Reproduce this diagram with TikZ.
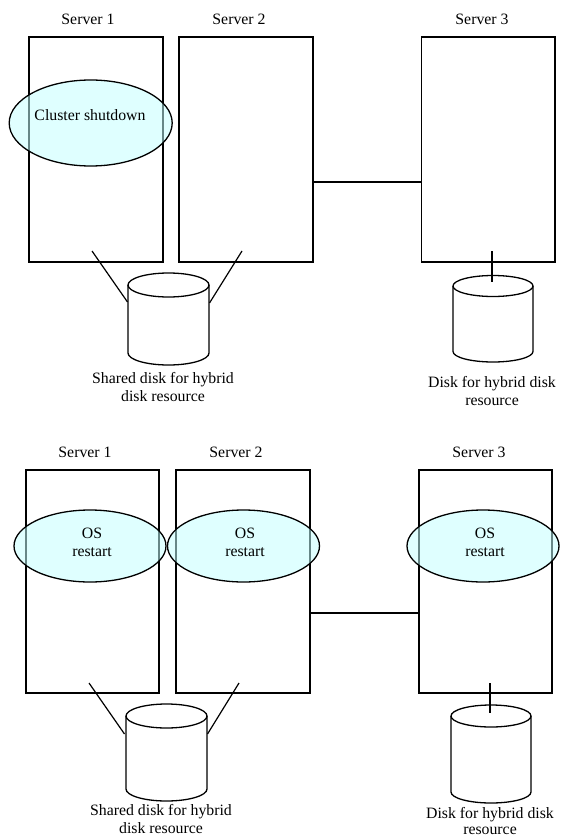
\documentclass[tikz,border=0pt]{standalone}
\usepackage{fontspec}
\setmainfont{Liberation Serif}
\usetikzlibrary{shapes.geometric}
\begin{document}
\begin{tikzpicture}[x=1pt,y=-1pt,
  every node/.style={font=\fontsize{15.8}{18}\selectfont, inner sep=0pt},
  server/.style={draw, line width=1.3pt, fill=white, rectangle},
  proc/.style={draw, ellipse, line width=1.3pt, fill={rgb,1:red,0.77;green,1;blue,1}, fill opacity=0.53, draw opacity=1, text opacity=1},
  txt/.style={anchor=base},
  link/.style={line width=1.2pt},
  disk/.style={line width=1.3pt}]
\useasboundingbox (0,0) rectangle (560,837);

% ---------- top diagram ----------
\node[server, minimum width=134pt, minimum height=225pt] (s1t) at (96,149.5) {};
\node[server, minimum width=134pt, minimum height=225pt] (s2t) at (246,149.5) {};
\node[server, minimum width=133.3pt, minimum height=225pt] (s3t) at (488.3,149.5) {};
\node[txt] (l1t) at (88,25) {Server 1};
\node[txt] (l2t) at (239,25) {Server 2};
\node[txt] (l3t) at (482,25) {Server 3};

\node[proc, minimum width=163pt, minimum height=86pt] (et) at (90.7,123) {};
\node[txt] (ett) at (90,121) {Cluster shutdown};

\coordinate (lkt) at (0,182);
\draw[link] (s2t.east |- lkt) -- (s3t.west |- lkt);

% shared disk (top)
\draw[disk, fill=white] (128,285) -- (128,353) arc (180:0:40.5 and 12) -- (209,285);
\draw[disk] (168.5,285) ellipse (40.5 and 12);
% S3 disk (top)
\draw[disk, fill=white] (453,286) -- (453,351.5) arc (180:0:40 and 10.5) -- (533,286);
\draw[disk] (493,286) ellipse (40 and 10.5);

\coordinate (a1t) at (92,251);  \coordinate (d1t) at (127.5,302);
\coordinate (a2t) at (242,251); \coordinate (d2t) at (209.5,303);
\coordinate (a3t) at (492,251); \coordinate (d3t) at (492,282);
\draw[link] (a1t) -- (d1t);
\draw[link] (a2t) -- (d2t);
\draw[link] (a3t) -- (d3t);

\node[txt] (sd1t) at (163,383) {Shared disk for hybrid};
\node[txt] (sd2t) at (163,401) {disk resource};
\node[txt] (dd1t) at (492,387) {Disk for hybrid disk};
\node[txt] (dd2t) at (492,405) {resource};

% ---------- bottom diagram ----------
\node[server, minimum width=133pt, minimum height=223pt] (s1b) at (92.5,581.5) {};
\node[server, minimum width=134pt, minimum height=223pt] (s2b) at (243,581.5) {};
\node[server, minimum width=133pt, minimum height=223pt] (s3b) at (485.5,581.5) {};
\node[txt] (l1b) at (85,457) {Server 1};
\node[txt] (l2b) at (236,457) {Server 2};
\node[txt] (l3b) at (479,457) {Server 3};

\node[proc, minimum width=152pt, minimum height=72pt] (e1b) at (90,546) {};
\node[proc, minimum width=152pt, minimum height=72pt] (e2b) at (243.5,546) {};
\node[proc, minimum width=152pt, minimum height=72pt] (e3b) at (483,546) {};
\node[txt] (o1a) at (92,538) {OS};
\node[txt] (o1b) at (92,556) {restart};
\node[txt] (o2a) at (245,538) {OS};
\node[txt] (o2b) at (245,556) {restart};
\node[txt] (o3a) at (485,538) {OS};
\node[txt] (o3b) at (485,556) {restart};

\coordinate (lkb) at (0,613);
\draw[link] (s2b.east |- lkb) -- (s3b.west |- lkb);

% shared disk (bottom)
\draw[disk, fill=white] (126,716) -- (126,789) arc (180:0:40.5 and 12) -- (207,716);
\draw[disk] (166.5,716) ellipse (40.5 and 12);
% S3 disk (bottom)
\draw[disk, fill=white] (451,716) -- (451,792) arc (180:0:40 and 11) -- (531,716);
\draw[disk] (491,716) ellipse (40 and 11);

\coordinate (a1b) at (89,683);  \coordinate (d1b) at (124.5,734);
\coordinate (a2b) at (239,683); \coordinate (d2b) at (207.5,734);
\coordinate (a3b) at (490,683); \coordinate (d3b) at (490,713);
\draw[link] (a1b) -- (d1b);
\draw[link] (a2b) -- (d2b);
\draw[link] (a3b) -- (d3b);

\node[txt] (sd1b) at (161,815) {Shared disk for hybrid};
\node[txt] (sd2b) at (161,833) {disk resource};
\node[txt] (dd1b) at (490,818) {Disk for hybrid disk};
\node[txt] (dd2b) at (490,834.5) {resource};
\end{tikzpicture}
\end{document}
